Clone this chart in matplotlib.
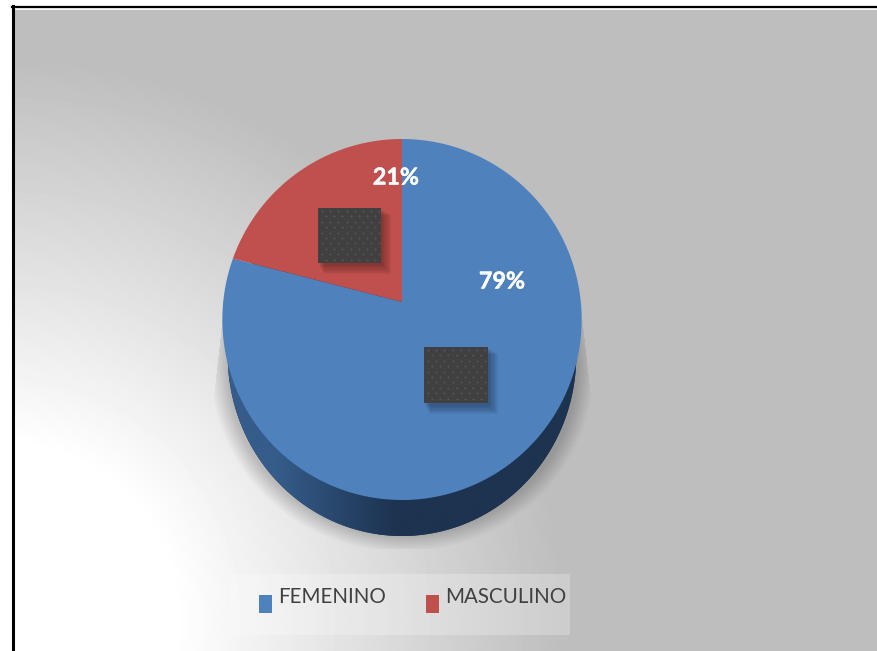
import numpy as np
import matplotlib
matplotlib.use("Agg")
import matplotlib.pyplot as plt
import matplotlib.patheffects as pe
from matplotlib.patches import Rectangle

categories = ["FEMENINO", "MASCULINO"]
values = [79, 21]
colors = ["#4f81bd", "#c0504d"]

plt.rcParams["font.family"] = ["Lato", "DejaVu Sans"]

W, H = 877, 651
fig = plt.figure(figsize=(W / 100, H / 100), dpi=100)
ax = fig.add_axes([0, 0, 1, 1])
ax.set_xlim(0, W)
ax.set_ylim(H, 0)
ax.axis("off")

# pie sits in perspective: apex is above the middle of the disc
cx, cy = 402, 302
a, k = 178.8, 0.097
depth = 36


def project(theta):
    u = np.sin(theta)
    v = np.cos(theta)
    d = 1 + k * v
    return cx + a * u / d, cy - a * v / d


# background
yy, xx = np.mgrid[0:H, 0:W]
r = np.hypot(xx, yy - 620)
t = np.clip((r - 175) / 385, 0, 1)
bg = 1.0 - t * (1.0 - 0.745)

# shadow under the pie, soft at the bottom and cut straight at the sides
d = np.hypot((xx - 402) / 192, (yy - 368) / 184)
sh = 0.2 * np.clip((1.0 - d) / 0.09, 0, 1)
limit = 179 + 11 * np.clip((yy - 310) / 100, 0, 1)
sh[np.abs(xx - 402) > limit] = 0
sh[yy > 548] = 0
sh[yy < 300] = 0
bg = bg * (1 - sh)

# area outside the black frame is white
bg[:, :13] = 1
bg[:8, :] = 1
bg[8:10, :] = np.maximum(bg[8:10, :], 0.97)
ax.imshow(bg, cmap="gray", vmin=0, vmax=1, extent=(0, W, H, 0), aspect="auto", zorder=0)
ax.plot([12.5, 12.5], [6, H], color="black", lw=2.2, zorder=1)
ax.plot([12, W], [6.5, 6.5], color="black", lw=1.6, zorder=1)

# side of the disc with left to right shading
theta = np.linspace(0, 2 * np.pi, 361)
px, py = project(theta)
rim = ax.fill(cx + (px - cx) * 0.97, py + depth, color="#1d3350", lw=0, zorder=2)[0]
grad = np.interp(np.linspace(0, 1, 360), [0, 0.15, 0.48, 1], [0.0, 0.0, 1.0, 1.0])
c0 = np.array([0x35, 0x5c, 0x8a]) / 255
c1 = np.array([0x1d, 0x33, 0x50]) / 255
img = (c0[None, :] * (1 - grad[:, None]) + c1[None, :] * grad[:, None])[None, :, :]
im = ax.imshow(img, extent=(223, 581, 560, 300), aspect="auto", zorder=3)
im.set_clip_path(rim)

# top of the pie, slices from the values
fracs = np.array(values) / sum(values)
edges = np.concatenate([[0], np.cumsum(fracs)]) * 2 * np.pi
for i in range(len(values)):
    th = np.linspace(edges[i], edges[i + 1], 300)
    sx, sy = project(th)
    ax.fill(np.r_[cx, sx], np.r_[cy, sy], color=colors[i], lw=0, zorder=4)


# dark label boxes
def box(x0, y0, x1, y1):
    for n in range(8):
        ax.add_patch(Rectangle((x0 + 1 + n * 0.7, y0 + 2 + n * 0.7), x1 - x0 + 1 + n * 0.5, y1 - y0 + 1 + n * 0.5,
                               color="black", alpha=0.04, lw=0, zorder=5))
    ax.add_patch(Rectangle((x0, y0), x1 - x0, y1 - y0, color="#404040", lw=0, zorder=6))
    gx, gy = np.meshgrid(np.arange(x0 + 4, x1 - 1, 8.2), np.arange(y0 + 3, y1 - 1, 5.4))
    gx = gx + (np.arange(gx.shape[0])[:, None] % 2) * 4
    keep = gx < x1 - 1
    ax.plot(gx[keep], gy[keep], ls="none", marker="o", ms=1.5, mew=0, color="#545454", zorder=7)


box(318, 208, 381, 263)
box(424, 347, 488, 403)

bold = [pe.withStroke(linewidth=0.3, foreground="white")]
ax.text(396, 178, "21%", color="white", fontsize=16.8, fontweight="bold", ha="center", va="center",
        zorder=8, path_effects=bold)
ax.text(502, 282, "79%", color="white", fontsize=16.8, fontweight="bold", ha="center", va="center",
        zorder=8, path_effects=bold)

# legend
ax.add_patch(Rectangle((231, 574), 339, 61, color="white", alpha=0.24, lw=0, zorder=2))
swatch_x = [259, 426]
text_x = [278, 445]
for i in range(len(categories)):
    ax.add_patch(Rectangle((swatch_x[i], 595), 13, 18, color=colors[i], lw=0, zorder=5))
    ax.text(text_x[i], 597, categories[i], color="#404040", fontsize=14.8, ha="left", va="center", zorder=5)

fig.savefig("out.png", dpi=100)
